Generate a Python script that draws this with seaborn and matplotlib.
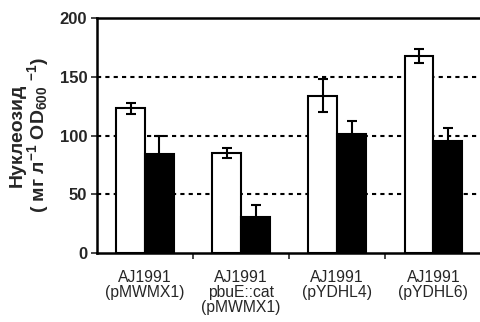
import numpy as np
import pandas as pd
import matplotlib
matplotlib.use("Agg")
import matplotlib.pyplot as plt
import seaborn as sns

categories = ["AJ1991\n(pMWMX1)", "AJ1991\npbuE::cat\n(pMWMX1)", "AJ1991\n(pYDHL4)", "AJ1991\n(pYDHL6)"]
series_names = ["A", "B"]
white_values = [123, 85, 134, 168]
white_errors = [5, 4, 14, 6]
black_values = [84, 31, 101, 95]
black_errors = [16, 10, 11, 11]
yticks = [0, 50, 100, 150, 200]

sns.set_theme(style="white")
plt.rcParams['font.family'] = ['Liberation Sans', 'DejaVu Sans']
plt.rcParams['mathtext.fontset'] = 'custom'
plt.rcParams['mathtext.rm'] = 'Liberation Sans:bold'
plt.rcParams['mathtext.bf'] = 'Liberation Sans:bold'
plt.rcParams['mathtext.it'] = 'Liberation Sans:bold'

df = pd.DataFrame({
    "cat": categories * 2,
    "series": [series_names[0]] * 4 + [series_names[1]] * 4,
    "value": white_values + black_values,
})

fig = plt.figure(figsize=(4.8, 3.22), dpi=100)
ax = fig.add_axes([97 / 480, 1 - 253 / 322, 1.0 - 97 / 480 + 0.003, (253 - 18) / 322])

for y in yticks[1:4]:
    ax.axhline(y, color="black", lw=1.5, ls=(0, (2, 2)), zorder=0)

sns.barplot(data=df, x="cat", y="value", hue="series", order=categories,
            hue_order=series_names, palette={"A": "white", "B": "black"},
            width=0.6, edgecolor="black", linewidth=1.5, errorbar=None,
            legend=False, ax=ax, zorder=2)

errs = [white_errors, black_errors]
for cont, e in zip(ax.containers, errs):
    xs = [p.get_x() + p.get_width() / 2 for p in cont.patches]
    hs = [p.get_height() for p in cont.patches]
    ax.errorbar(xs, hs, yerr=e, fmt="none", ecolor="black", elinewidth=1.5,
                capsize=3.5, capthick=1.5, zorder=3)

ax.set_xlim(-0.5, 3.5)
ax.set_ylim(0, 200)
ax.set_yticks(yticks)
ax.set_yticklabels([str(v) for v in yticks], fontsize=12, fontweight="bold")
ax.set_xticks(range(4))
ax.set_xticklabels(categories, fontsize=11.3, linespacing=1.0)
ax.set_xticks([0.5, 1.5, 2.5], minor=True)
ax.tick_params(axis="x", which="major", length=0, pad=12)
ax.tick_params(axis="x", which="minor", length=4, width=1.2, direction="out", bottom=True)
ax.tick_params(axis="y", length=4, width=1.2, direction="out", left=True, pad=3)
ax.set_xlabel("")
ax.set_ylabel("Нуклеозид\n( мг л$^{-1}$ OD$_{600}$ $^{-1}$)", fontsize=14,
              fontweight="bold", linespacing=1.0, labelpad=6)

for s in ["left", "bottom", "top"]:
    ax.spines[s].set_visible(True)
    ax.spines[s].set_color("black")
    ax.spines[s].set_linewidth(1.8)
ax.spines["right"].set_visible(False)
ax.set_facecolor("white")
ax.grid(False)

fig.savefig("out.png", dpi=100)
